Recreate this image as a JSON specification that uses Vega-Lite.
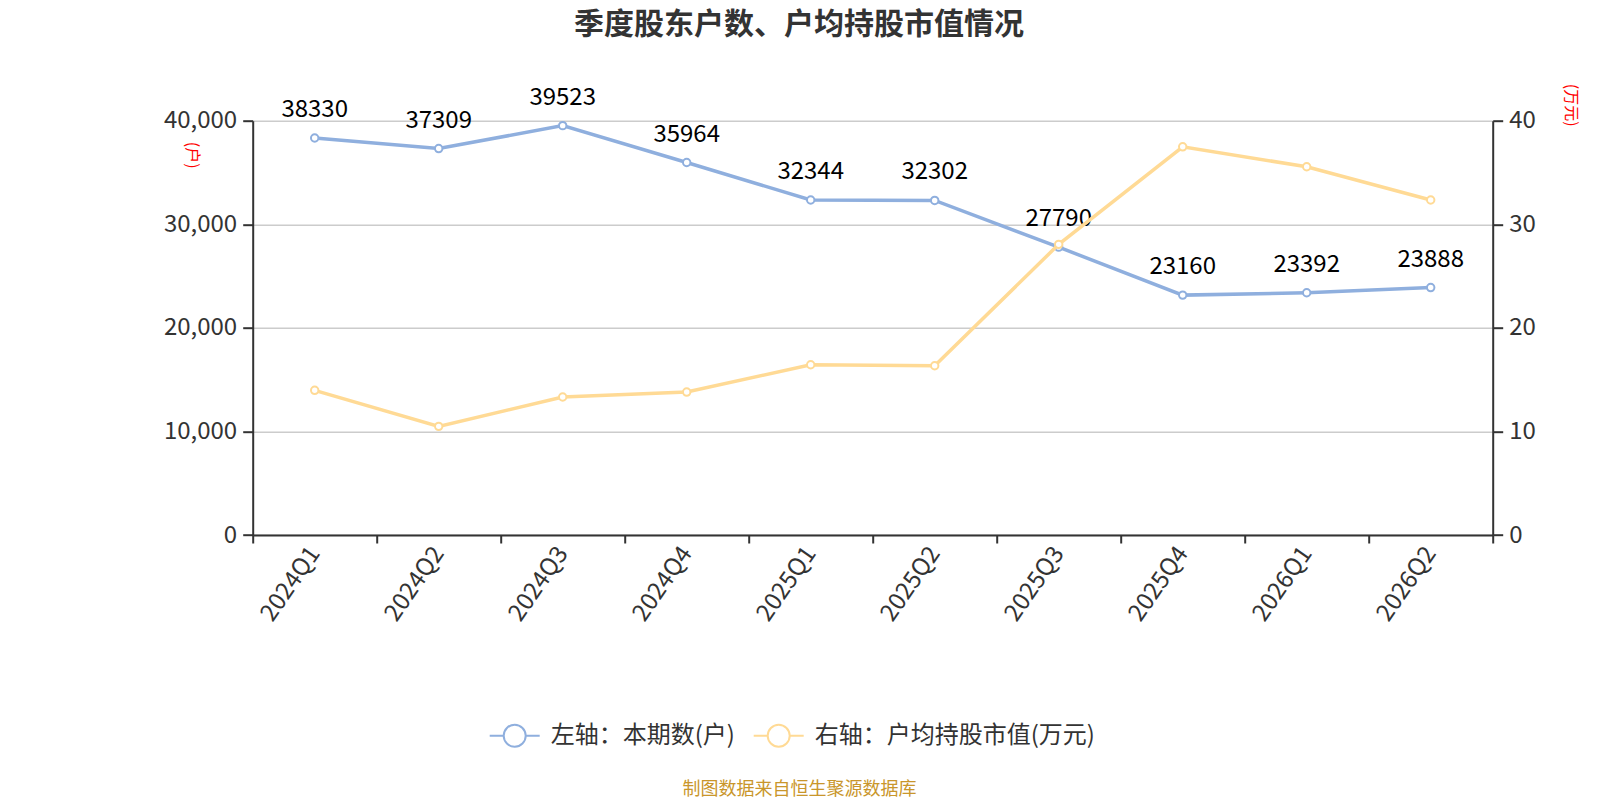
{
  "$schema": "https://vega.github.io/schema/vega-lite/v6.json",
  "autosize": {"type": "none"},
  "padding": {"left": 252.7, "top": 120.7, "right": 107.3, "bottom": 265},
  "width": 1240,
  "height": 414.3,
  "background": "white",
  "config": {
    "font": "Noto Sans CJK SC",
    "view": {"stroke": null},
    "axis": {"labelColor": "#333333", "labelFontSize": 24, "labelFont": "Noto Sans CJK SC"}
  },
  "title": {
    "text": "季度股东户数、户均持股市值情况",
    "fontSize": 30,
    "fontWeight": "bold",
    "color": "#333333",
    "anchor": "middle",
    "dx": -73.7,
    "offset": 43
  },
  "data": {
    "values": [
      {"quarter": "2024Q1", "holders": 38330, "avg": 13.97},
      {"quarter": "2024Q2", "holders": 37309, "avg": 10.49},
      {"quarter": "2024Q3", "holders": 39523, "avg": 13.32},
      {"quarter": "2024Q4", "holders": 35964, "avg": 13.80},
      {"quarter": "2025Q1", "holders": 32344, "avg": 16.44},
      {"quarter": "2025Q2", "holders": 32302, "avg": 16.34},
      {"quarter": "2025Q3", "holders": 27790, "avg": 28.06},
      {"quarter": "2025Q4", "holders": 23160, "avg": 37.48},
      {"quarter": "2026Q1", "holders": 23392, "avg": 35.55},
      {"quarter": "2026Q2", "holders": 23888, "avg": 32.34}
    ]
  },
  "encoding": {
    "x": {
      "field": "quarter",
      "type": "ordinal",
      "sort": null,
      "bandPosition": 0.5,
      "scale": {"type": "band", "paddingInner": 0, "paddingOuter": 0},
      "axis": {
        "title": "制图数据来自恒生聚源数据库",
        "titleColor": "#C9962B",
        "titleFontSize": 18,
        "titleFontWeight": "normal",
        "titleX": 546.3,
        "titleY": 254,
        "titleAlign": "center",
        "titleBaseline": "middle",
        "titleAngle": 0,
        "labelAngle": -55,
        "labelAlign": "right",
        "labelBaseline": "middle",
        "labelPadding": 6,
        "tickBand": "extent",
        "tickSize": 8,
        "tickWidth": 2,
        "tickColor": "#333333",
        "domainColor": "#333333",
        "domainWidth": 2,
        "grid": false
      }
    }
  },
  "layer": [
    {
      "layer": [
        {
          "mark": {"type": "line", "strokeWidth": 3.5, "point": {"filled": false, "fill": "white", "stroke": "#8FAFDE", "strokeWidth": 2, "size": 55}},
          "encoding": {
            "y": {
              "field": "holders",
              "type": "quantitative",
              "scale": {"domain": [0, 40000], "nice": false},
              "axis": {
                "orient": "left",
                "values": [0, 10000, 20000, 30000, 40000],
                "format": ",.0f",
                "grid": true,
                "gridColor": "#CCCCCC",
                "gridWidth": 1.5,
                "domainColor": "#333333",
                "domainWidth": 2,
                "tickColor": "#333333",
                "tickWidth": 2,
                "tickSize": 10,
                "labelPadding": 6,
                "title": "(户)",
                "titleColor": "#FF0000",
                "titleFontSize": 16,
                "titleFontWeight": "normal",
                "titleAngle": 90,
                "titleX": -61,
                "titleY": 34,
                "titleAlign": "center",
                "titleBaseline": "middle"
              }
            },
            "color": {
              "datum": "左轴：本期数(户)",
              "type": "nominal",
              "scale": {"domain": ["左轴：本期数(户)", "右轴：户均持股市值(万元)"], "range": ["#8FAFDE", "#FFDA95"]},
              "legend": {
                "orient": "none",
                "legendX": 236,
                "legendY": 589,
                "direction": "horizontal",
                "title": null,
                "symbolType": "M-1,0H-0.44M0.44,0H1M0.44,0A0.44,0.44 0 1,1 -0.44,0A0.44,0.44 0 1,1 0.44,0",
                "symbolSize": 2500,
                "symbolStrokeWidth": 2,
                "symbolFillColor": "white",
                "labelFontSize": 24,
                "labelColor": "#333333",
                "labelLimit": 500,
                "labelOffset": 10,
                "columnPadding": 14,
                "padding": 0
              }
            }
          }
        },
        {
          "mark": {"type": "text", "fontSize": 24, "color": "#000000", "baseline": "alphabetic", "dy": -21},
          "encoding": {
            "y": {"field": "holders", "type": "quantitative"},
            "text": {"field": "holders", "type": "quantitative", "format": "d"}
          }
        }
      ]
    },
    {
      "mark": {"type": "line", "strokeWidth": 3.5, "point": {"filled": false, "fill": "white", "stroke": "#FFDA95", "strokeWidth": 2, "size": 55}},
      "encoding": {
        "y": {
          "field": "avg",
          "type": "quantitative",
          "scale": {"domain": [0, 40], "nice": false},
          "axis": {
            "orient": "right",
            "values": [0, 10, 20, 30, 40],
            "grid": false,
            "domainColor": "#333333",
            "domainWidth": 2,
            "tickColor": "#333333",
            "tickWidth": 2,
            "tickSize": 10,
            "labelPadding": 6,
            "title": "(万元)",
            "titleColor": "#FF0000",
            "titleFontSize": 16,
            "titleFontWeight": "normal",
            "titleAngle": 90,
            "titleX": 78,
            "titleY": -16,
            "titleAlign": "center",
            "titleBaseline": "middle"
          }
        },
        "color": {"datum": "右轴：户均持股市值(万元)", "type": "nominal"}
      }
    }
  ],
  "resolve": {"scale": {"y": "independent"}}
}
